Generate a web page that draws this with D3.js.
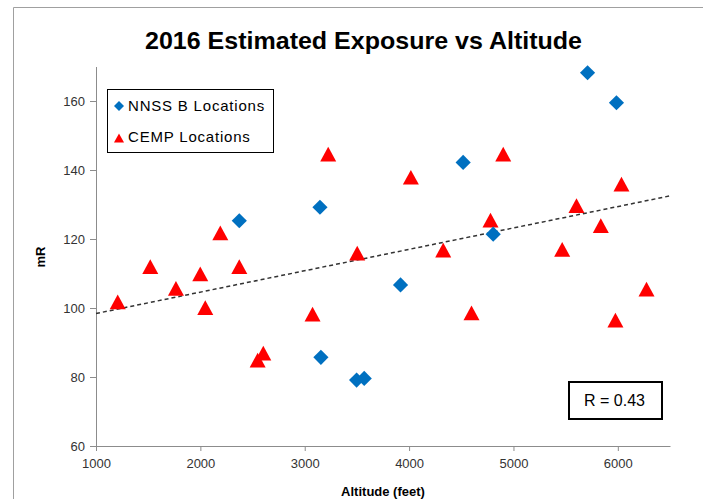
<!DOCTYPE html>
<html>
<head>
<meta charset="utf-8">
<script src="https://cdn.jsdelivr.net/npm/d3@7/dist/d3.min.js"></script>
<style>
  html, body { margin: 0; padding: 0; background: #fff; }
  svg { display: block; }
  text { font-family: "Liberation Sans", Arial, sans-serif; }
</style>
</head>
<body>
<svg id="chart" width="703" height="499"></svg>
<script>
// NNSS B locations: altitude (ft) and estimated exposure (mR)
const nnssAltitude = [2373, 3146, 3155, 3497, 3570, 3918, 4518, 4806, 5710, 5987];
const nnssExposure = [125.3, 129.2, 85.7, 79.1, 79.6, 106.7, 142.2, 121.4, 168.2, 159.5];

// CEMP locations: altitude (ft) and estimated exposure (mR)
const cempAltitude = [1208, 1520, 1766, 1999, 2047, 2191, 2373, 2549, 2603, 3075, 3225, 3503,
                      4017, 4327, 4598, 4780, 4902, 5467, 5604, 5837, 5977, 6035, 6275];
const cempExposure = [101.8, 112.0, 105.7, 109.9, 100.1, 121.8, 112.0, 84.9, 86.9, 98.2, 144.6, 115.9,
                      137.9, 116.8, 98.6, 125.5, 144.6, 117.0, 129.7, 123.9, 96.5, 135.9, 105.5];

// Linear trend line end points (all locations)
const trendAltitude = [1000, 6500];
const trendExposure = [98.4, 132.5];

const xTicks = [1000, 2000, 3000, 4000, 5000, 6000];
const yTicks = [60, 80, 100, 120, 140, 160];
const rValue = 0.43;

const seriesNames = ["NNSS B Locations", "CEMP Locations"];
const seriesColors = ["#0070C0", "#FF0000"];

const svg = d3.select("#chart");

// outer chart frame
svg.append("path")
  .attr("d", "M13.5,499 L13.5,7.5 L703,7.5")
  .attr("fill", "none")
  .attr("stroke", "#a0a0a0")
  .attr("stroke-width", 1);

const x = d3.scaleLinear().domain([1000, 6500]).range([96, 670]);
const y = d3.scaleLinear().domain([60, 170]).range([446, 66.5]);

// title
svg.append("text")
  .attr("x", 363.5).attr("y", 49)
  .attr("text-anchor", "middle")
  .attr("font-size", 24).attr("font-weight", "bold")
  .attr("textLength", 437).attr("lengthAdjust", "spacingAndGlyphs")
  .attr("fill", "#000")
  .text("2016 Estimated Exposure vs Altitude");

// axes
const axisColor = "#8c8c8c";
const xAxis = svg.append("g")
  .attr("transform", "translate(0,446)")
  .call(d3.axisBottom(x).tickValues(xTicks).tickSize(5).tickSizeOuter(0).tickPadding(8).tickFormat(d3.format("d")));
const yAxis = svg.append("g")
  .attr("transform", "translate(96,0)")
  .call(d3.axisLeft(y).tickValues(yTicks).tickSize(6).tickSizeOuter(0).tickPadding(5).tickFormat(d3.format("d")));

[xAxis, yAxis].forEach(g => {
  g.select(".domain").attr("stroke", axisColor);
  g.selectAll(".tick line").attr("stroke", axisColor);
  g.selectAll(".tick text")
    .attr("font-family", "'Liberation Sans', Arial, sans-serif")
    .attr("font-size", 13)
    .attr("fill", "#333");
});

// axis titles
svg.append("text")
  .attr("x", 383).attr("y", 496)
  .attr("text-anchor", "middle")
  .attr("font-size", 13).attr("font-weight", "bold")
  .text("Altitude (feet)");
svg.append("text")
  .attr("transform", "translate(45,257) rotate(-90)")
  .attr("text-anchor", "middle")
  .attr("font-size", 13).attr("font-weight", "bold")
  .text("mR");

// trend line
svg.append("line")
  .attr("x1", x(trendAltitude[0])).attr("y1", y(trendExposure[0]))
  .attr("x2", x(trendAltitude[1])).attr("y2", y(trendExposure[1]))
  .attr("stroke", "#333")
  .attr("stroke-width", 1.5)
  .attr("stroke-dasharray", "4,3");

// marker symbols
const diamond = d3.symbol().type(d3.symbolSquare).size(115);
const triangle = s => {
  const h = s * 0.92, w = s;
  return `M0,${-h / 2} L${w / 2},${h / 2} L${-w / 2},${h / 2} Z`;
};

svg.append("g").selectAll("path")
  .data(cempAltitude.map((a, i) => [a, cempExposure[i]]))
  .join("path")
  .attr("d", triangle(16))
  .attr("transform", d => `translate(${x(d[0])},${y(d[1])})`)
  .attr("fill", seriesColors[1]);

svg.append("g").selectAll("path")
  .data(nnssAltitude.map((a, i) => [a, nnssExposure[i]]))
  .join("path")
  .attr("d", diamond)
  .attr("transform", d => `translate(${x(d[0])},${y(d[1])}) rotate(45)`)
  .attr("fill", seriesColors[0]);

// legend
const legend = svg.append("g");
legend.append("rect")
  .attr("x", 107.5).attr("y", 89.5).attr("width", 166).attr("height", 63)
  .attr("fill", "#fff").attr("stroke", "#000").attr("stroke-width", 1);
legend.append("path")
  .attr("d", d3.symbol().type(d3.symbolSquare).size(50))
  .attr("transform", "translate(119,106) rotate(45)")
  .attr("fill", seriesColors[0]);
legend.append("path")
  .attr("d", triangle(10))
  .attr("transform", "translate(119,138)")
  .attr("fill", seriesColors[1]);
legend.selectAll("text.lg")
  .data(seriesNames)
  .join("text")
  .attr("class", "lg")
  .attr("x", 128)
  .attr("y", (d, i) => 111 + i * 31)
  .attr("font-size", 15)
  .attr("letter-spacing", 0.8)
  .attr("fill", "#000")
  .text(d => d);

// correlation box
svg.append("rect")
  .attr("x", 569).attr("y", 382).attr("width", 93).attr("height", 37)
  .attr("fill", "#fff").attr("stroke", "#000").attr("stroke-width", 2);
svg.append("text")
  .attr("x", 614.5).attr("y", 406)
  .attr("text-anchor", "middle")
  .attr("font-size", 16)
  .attr("fill", "#000")
  .text(`R = ${rValue.toFixed(2)}`);
</script>
</body>
</html>
